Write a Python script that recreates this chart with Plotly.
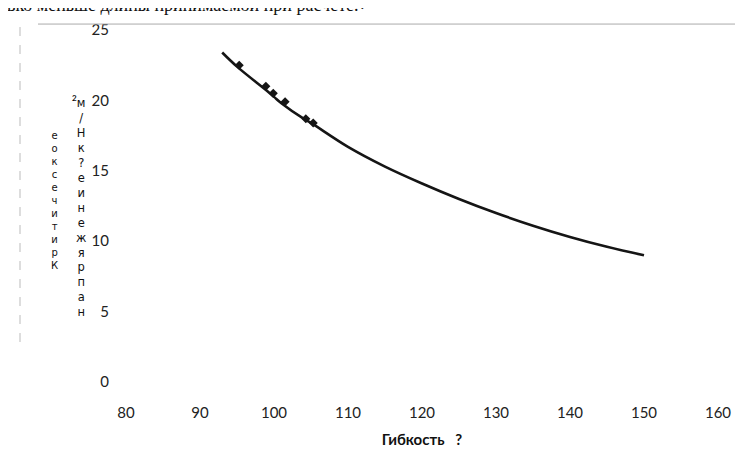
import plotly.graph_objects as go

# curve
lam = [93, 95, 99, 100, 101, 104, 105, 110, 115, 120, 125, 130, 135, 140, 145, 150]
sigma = [23.4, 22.4, 20.7, 20.25, 19.8, 18.7, 18.4, 16.7, 15.3, 14.1, 13.0, 12.0, 11.1, 10.3, 9.6, 9.0]

# diamond markers on the curve
pt_lam = [95.3, 98.9, 99.9, 101.5, 104.3, 105.3]
pt_sigma = [22.5, 21.0, 20.5, 19.9, 18.7, 18.4]

x_ticks = [80, 90, 100, 110, 120, 130, 140, 150, 160]
y_ticks = [0, 5, 10, 15, 20, 25]

head_text = "вко меньше длины принимаемой при расчете.↵"
x_title = "Гибкость\u00a0\u00a0\u00a0?"
ytitle_left = "Критическое"
ytitle_right = "напряжение?кН/м"

W, H = 743, 468
L, R, T, B = 118, 33, 19, 94

fig = go.Figure()

fig.add_trace(go.Scatter(
    x=lam, y=sigma, mode="lines",
    line=dict(color="#151515", width=2.6, shape="spline"),
    showlegend=False,
))
fig.add_trace(go.Scatter(
    x=pt_lam, y=pt_sigma, mode="markers",
    marker=dict(symbol="diamond", size=7, color="#151515"),
    showlegend=False,
))

fig.update_layout(
    width=W, height=H,
    margin=dict(l=L, r=R, t=T, b=B),
    paper_bgcolor="white", plot_bgcolor="white",
    font=dict(family="Lato, Open Sans, sans-serif", size=15, color="#222"),
)
fig.update_xaxes(
    range=[80, 160], tickvals=x_ticks, showgrid=False, zeroline=False,
    showline=False, ticklabelstandoff=20,
    title=dict(text=x_title, font=dict(size=15, weight="bold", color="#111"), standoff=14),
)
fig.update_yaxes(
    range=[0, 25], tickvals=y_ticks, showgrid=False, zeroline=False,
    showline=False, ticklabelstandoff=16,
)

def py(p):
    # pixel row -> paper y
    return (H - B - p) / (H - T - B)

def px(p):
    # pixel column -> paper x
    return (p - L) / (W - L - R)

# stacked y-axis title, read bottom to top like the scan
fig.add_annotation(
    text="<br>".join(reversed(ytitle_left)), xref="paper", yref="paper",
    x=px(46), y=py(191), showarrow=False, align="center",
    font=dict(family="DejaVu Sans, sans-serif", size=10, color="#111"),
    xanchor="center", yanchor="middle",
)
fig.add_annotation(
    text="<br>".join(reversed(ytitle_right)), xref="paper", yref="paper",
    x=px(73), y=py(198), showarrow=False, align="center",
    font=dict(family="DejaVu Sans, sans-serif", size=11.5, color="#111"),
    xanchor="center", yanchor="middle",
)
fig.add_annotation(
    text="2", xref="paper", yref="paper", x=px(66), y=py(88),
    showarrow=False, font=dict(size=8, color="#111", weight="bold"), xanchor="center", yanchor="middle",
)

# cut-off line of text above the chart (scan)
fig.add_annotation(
    text=head_text, xref="paper", yref="paper", x=px(-3), y=py(6),
    showarrow=False, font=dict(family="Liberation Serif, serif", size=18, color="#111"),
    xanchor="left", yanchor="bottom",
)

# faint frame remnants from the scan
fig.add_shape(type="line", xref="paper", yref="paper", x0=px(30), x1=px(745),
              y0=py(13), y1=py(13), line=dict(color="#aaa", width=1))
fig.add_shape(type="line", xref="paper", yref="paper", x0=px(12), x1=px(12),
              y0=py(16), y1=py(335), line=dict(color="#bbb", width=1, dash="dash"))

fig.write_html("out.html")
